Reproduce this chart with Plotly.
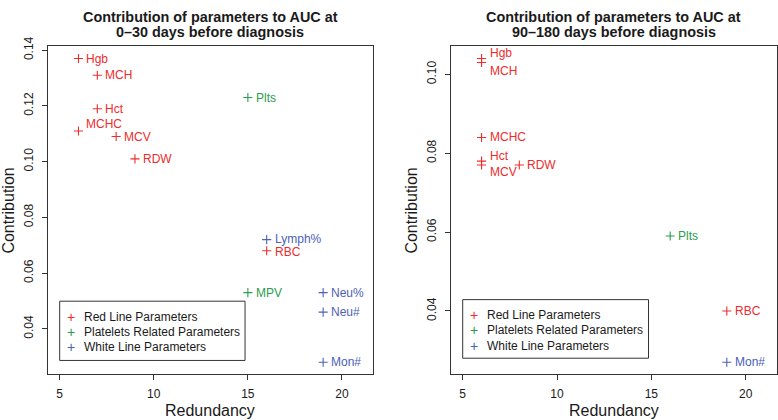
import plotly.graph_objects as go

# ---------------- data ----------------
left_params = ["Hgb", "MCH", "Hct", "MCHC", "MCV", "RDW", "Plts", "Lymph%", "RBC", "MPV", "Neu%", "Neu#", "Mon#"]
left_redundancy = [6, 7, 7, 6, 8, 9, 15, 16, 16, 15, 19, 19, 19]
left_contribution = [0.137, 0.131, 0.119, 0.111, 0.109, 0.101, 0.123, 0.072, 0.068, 0.053, 0.053, 0.046, 0.028]
left_group = ["Red", "Red", "Red", "Red", "Red", "Red", "Platelets", "White", "Red", "Platelets", "White", "White", "White"]

right_params = ["Hgb", "MCH", "MCHC", "Hct", "MCV", "RDW", "Plts", "RBC", "Mon#"]
right_redundancy = [6, 6, 6, 6, 6, 8, 16, 19, 19]
right_contribution = [0.104, 0.103, 0.084, 0.078, 0.077, 0.077, 0.059, 0.040, 0.027]
right_group = ["Red", "Red", "Red", "Red", "Red", "Red", "Platelets", "Red", "White"]

groups = ["Red", "Platelets", "White"]
legend_labels = ["Red Line Parameters", "Platelets Related Parameters", "White Line Parameters"]
titles = [["Contribution of parameters to AUC at", "0\u201330 days before diagnosis"],
          ["Contribution of parameters to AUC at", "90\u2013180 days before diagnosis"]]
x_ticks = [5, 10, 15, 20]
left_y_ticks = [0.04, 0.06, 0.08, 0.10, 0.12, 0.14]
right_y_ticks = [0.04, 0.06, 0.08, 0.10]

# ---------------- styles ----------------
colors = {"Red": "#EE2C2C", "Platelets": "#2A9D4E", "White": "#4B61B6"}
FONT = "Liberation Sans, Arial, Helvetica, sans-serif"
TXT = "#1a1a1a"
# label vertical nudges (pixels) to avoid overlap, like manual R adjustments
left_nudge = {"MCHC": 7, "Lymph%": 1, "RBC": -1}
right_nudge = {"Hgb": 6, "MCH": -8, "Hct": 5, "MCV": -7}

W, H = 778, 420
y_dom = [1 - 373.3 / H, 1 - 37.3 / H]
x_doms = [[47.7 / W, 373.3 / W], [451.2 / W, 777.6 / W]]

fig = go.Figure()
annotations = []
shapes = []

panels = [
    (left_params, left_redundancy, left_contribution, left_group, left_nudge, left_y_ticks, "x", "y"),
    (right_params, right_redundancy, right_contribution, right_group, right_nudge, right_y_ticks, "x2", "y2"),
]

for pi, (params, red, con, grp, nudge, yt, xr, yr) in enumerate(panels):
    for g in groups:
        xs = [r for r, gg in zip(red, grp) if gg == g]
        ys = [c for c, gg in zip(con, grp) if gg == g]
        if not xs:
            continue
        fig.add_trace(go.Scatter(
            x=xs, y=ys, mode="markers", xaxis=xr, yaxis=yr, showlegend=False,
            marker=dict(symbol="cross-thin", size=6.5, line=dict(width=1.1, color=colors[g]), color=colors[g]),
            hoverinfo="skip"))
    for p, r, c, g in zip(params, red, con, grp):
        annotations.append(dict(
            x=r, y=c, xref=xr, yref=yr, text=p, showarrow=False,
            xanchor="left", yanchor="middle", xshift=6, yshift=nudge.get(p, 0),
            font=dict(family=FONT, size=12, color=colors[g])))

    # y range (R default 4% expansion)
    ymin, ymax = min(con), max(con)
    pad = (ymax - ymin) * 0.04
    axis_common = dict(showgrid=False, zeroline=False, showline=True, mirror=True,
                       linecolor="#333333", linewidth=1, ticks="outside", ticklen=5,
                       tickcolor="#333333", tickfont=dict(family=FONT, size=12, color=TXT))
    xname = "xaxis" if pi == 0 else "xaxis2"
    yname = "yaxis" if pi == 0 else "yaxis2"
    fig.layout[xname] = dict(domain=x_doms[pi], range=[5 - 0.64, 21 + 0.64], tickvals=x_ticks,
                             anchor=yr, ticklabelstandoff=3, **axis_common)
    fig.layout[yname] = dict(domain=y_dom, range=[ymin - pad, ymax + pad], tickvals=yt,
                             tickformat=".2f", tickangle=-90, anchor=xr, ticklabelstandoff=4, **axis_common)

    # titles
    xc = (x_doms[pi][0] + x_doms[pi][1]) / 2
    for li, (line, ypx) in enumerate(zip(titles[pi], [7, 23])):
        annotations.append(dict(x=xc, y=1 - ypx / H, xref="paper", yref="paper", text="<b>%s</b>" % line,
                                showarrow=False, xanchor="center", yanchor="middle",
                                font=dict(family=FONT, size=14.4, color=TXT)))
    # axis titles
    annotations.append(dict(x=xc, y=1 - 410.5 / H, xref="paper", yref="paper", text="Redundancy",
                            showarrow=False, xanchor="center", yanchor="middle",
                            font=dict(family=FONT, size=16, color=TXT)))
    annotations.append(dict(x=(x_doms[pi][0] * W - 39.5) / W, y=(y_dom[0] + y_dom[1]) / 2, xref="paper", yref="paper",
                            text="Contribution", textangle=-90, showarrow=False,
                            xanchor="center", yanchor="middle",
                            font=dict(family=FONT, size=16, color=TXT)))

    # legend box (R-style legend in bottom-left)
    ydref = yr + " domain"
    box_top = 0.2232 if pi == 0 else 0.228
    box_bot = 0.0426 if pi == 0 else 0.0494
    shapes.append(dict(type="rect", xref=xr, yref=ydref, x0=5, x1=14.85, y0=box_bot, y1=box_top,
                       line=dict(color="#333333", width=1), fillcolor="rgba(0,0,0,0)"))
    for k, (g, lab) in enumerate(zip(groups, legend_labels)):
        yshift = -(15.7 + 15.1 * k)
        annotations.append(dict(x=5.58, y=box_top, xref=xr, yref=ydref, text="+", showarrow=False,
                                xanchor="center", yanchor="middle", yshift=yshift,
                                font=dict(family=FONT, size=14, color=colors[g])))
        annotations.append(dict(x=6.2, y=box_top, xref=xr, yref=ydref, text=lab, showarrow=False,
                                xanchor="left", yanchor="middle", yshift=yshift,
                                font=dict(family=FONT, size=12, color=TXT)))

fig.update_layout(width=W, height=H, margin=dict(l=0, r=0, t=0, b=0),
                  plot_bgcolor="white", paper_bgcolor="white",
                  annotations=annotations, shapes=shapes, showlegend=False)
fig.write_html("out.html", config={"displayModeBar": False},
               post_script="document.body.style.margin='0';document.body.style.padding='0';")
